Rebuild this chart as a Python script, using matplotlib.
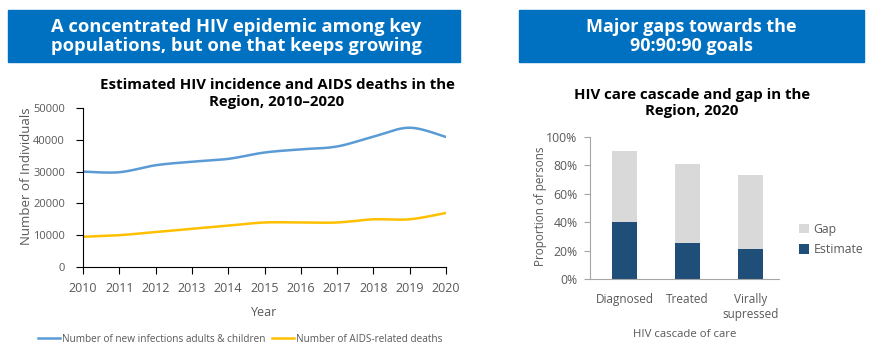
import numpy as np
import matplotlib
matplotlib.use("Agg")
import matplotlib.pyplot as plt
from matplotlib.patches import Rectangle

plt.rcParams['font.family'] = ['Open Sans', 'DejaVu Sans']

# ---------------- data ----------------
years = [2010, 2011, 2012, 2013, 2014, 2015, 2016, 2017, 2018, 2019, 2020]
new_infections = [30000, 29800, 32000, 33100, 34000, 36000, 37000, 37900, 41000, 43800, 40900]
aids_deaths = [9500, 10000, 11000, 12000, 13000, 14000, 14000, 14000, 15000, 15000, 17000]
y_ticks_left = [0, 10000, 20000, 30000, 40000, 50000]

cascade_cats = ["Diagnosed", "Treated", "Virally\nsupressed"]
estimate = [40, 25, 21]
gap = [50, 56, 52]
y_ticks_right = [0, 20, 40, 60, 80, 100]

BLUE = "#5B9BD5"
YELLOW = "#FFC000"
DARK = "#1F4E79"
LIGHT = "#D9D9D9"
BANNER = "#0070C0"
GREY = "#595959"


def smooth(x, y, n=20, tension=0.5):
    """Cardinal spline through points, for drawing a smoothed line."""
    x = np.asarray(x, float)
    y = np.asarray(y, float)
    px = np.concatenate([[x[0]], x, [x[-1]]])
    py = np.concatenate([[y[0]], y, [y[-1]]])
    xs, ys = [], []
    t = np.linspace(0, 1, n, endpoint=False)
    for i in range(1, len(px) - 2):
        p0, p1, p2, p3 = (np.array([px[j], py[j]]) for j in (i - 1, i, i + 1, i + 2))
        m1 = tension * (p2 - p0)
        m2 = tension * (p3 - p1)
        h00 = 2 * t**3 - 3 * t**2 + 1
        h10 = t**3 - 2 * t**2 + t
        h01 = -2 * t**3 + 3 * t**2
        h11 = t**3 - t**2
        pts = (np.outer(h00, p1) + np.outer(h10, m1) + np.outer(h01, p2) + np.outer(h11, m2))
        xs.extend(pts[:, 0])
        ys.extend(pts[:, 1])
    xs.append(x[-1])
    ys.append(y[-1])
    return np.array(xs), np.array(ys)


fig = plt.figure(figsize=(8.78, 3.55), dpi=100)

# ---------------- banners ----------------
fig.patches.append(Rectangle((8 / 878, 1 - 62 / 355), (460 - 8) / 878, 52 / 355,
                             transform=fig.transFigure, color=BANNER, zorder=0))
fig.patches.append(Rectangle((519 / 878, 1 - 62 / 355), (864 - 519) / 878, 52 / 355,
                             transform=fig.transFigure, color=BANNER, zorder=0))
fig.text(236 / 878, 1 - 36.5 / 355, "A concentrated HIV epidemic among key\npopulations, but one that keeps growing",
         ha="center", va="center", color="white", fontsize=13.2, fontweight="bold", linespacing=1.12)
fig.text(691 / 878, 1 - 36.5 / 355, "Major gaps towards the\n90:90:90 goals",
         ha="center", va="center", color="white", fontsize=13.0, fontweight="bold", linespacing=1.12)

# ---------------- left line chart ----------------
ax1 = fig.add_axes([83 / 878, 1 - 267 / 355, (446 - 83) / 878, (267 - 108) / 355])
sx, sy = smooth(years, new_infections)
ax1.plot(sx, sy, color=BLUE, lw=1.8, label="Number of new infections adults & children")
sx, sy = smooth(years, aids_deaths)
ax1.plot(sx, sy, color=YELLOW, lw=1.8, label="Number of AIDS-related deaths")
ax1.set_xlim(years[0], years[-1])
ax1.set_ylim(0, 50000)
ax1.set_yticks(y_ticks_left)
ax1.set_xticks(years)
ax1.tick_params(axis="y", labelsize=8, colors="black", labelcolor=GREY, length=5, width=0.8, pad=8)
ax1.tick_params(axis="x", labelsize=9, colors="black", labelcolor=GREY, length=5, width=0.8, pad=6)
for s in ("top", "right"):
    ax1.spines[s].set_visible(False)
ax1.set_xlabel("Year", fontsize=9, color=GREY, labelpad=8)
ax1.set_ylabel("Number of Individuals", fontsize=9.5, color=GREY, labelpad=0)
ax1.yaxis.set_label_coords(-50 / 363, 0.57)
ax1.patch.set_alpha(0)
fig.text(277 / 878, 1 - 93.5 / 355, "Estimated HIV incidence and AIDS deaths in the\nRegion, 2010\u20132020",
         ha="center", va="center", fontsize=10.8, fontweight="bold", color="black", linespacing=1.3)
fig.legend(*ax1.get_legend_handles_labels(), loc="center", bbox_to_anchor=(240 / 878, 1 - 339 / 355),
           ncol=2, frameon=False, fontsize=7.2, labelcolor=GREY, handlelength=2.2,
           handletextpad=0.15, columnspacing=0.7)

# ---------------- right stacked bar chart ----------------
ax2 = fig.add_axes([590 / 878, 1 - 279 / 355, 189 / 878, (279 - 136.7) / 355])
xpos = np.arange(len(cascade_cats))
ax2.bar(xpos, estimate, width=0.4, color=DARK, label="Estimate")
ax2.bar(xpos, gap, bottom=estimate, width=0.4, color=LIGHT, label="Gap")
ax2.set_xlim(-0.55, 2.45)
ax2.set_ylim(0, 100)
ax2.set_yticks(y_ticks_right)
ax2.set_yticklabels([f"{v}%" for v in y_ticks_right])
ax2.set_xticks(xpos)
ax2.set_xticklabels(cascade_cats)
ax2.tick_params(axis="y", labelsize=8.8, colors="#A6A6A6", labelcolor=GREY, length=4, width=0.8, pad=5)
ax2.tick_params(axis="x", labelsize=8.5, labelcolor=GREY, length=0, pad=10)
for s in ("top", "right"):
    ax2.spines[s].set_visible(False)
for s in ("left", "bottom"):
    ax2.spines[s].set_color("#A6A6A6")
ax2.set_xlabel("HIV cascade of care", fontsize=8.2, color=GREY, labelpad=6)
ax2.set_ylabel("Proportion of persons", fontsize=8.4, color=GREY, labelpad=0)
ax2.yaxis.set_label_coords(-43 / 189, 0.51)
fig.text(692 / 878, 1 - 103 / 355, "HIV care cascade and gap in the\nRegion, 2020",
         ha="center", va="center", fontsize=10.8, fontweight="bold", color="black", linespacing=1.25)
h, l = ax2.get_legend_handles_labels()
fig.legend(h[::-1], l[::-1], loc="upper left", bbox_to_anchor=(788 / 878, 1 - 212 / 355),
           frameon=False, fontsize=8.8, labelcolor=GREY, handlelength=0.8, handleheight=0.8,
           handletextpad=0.4, labelspacing=0.6)

fig.savefig("out.png", dpi=100)
